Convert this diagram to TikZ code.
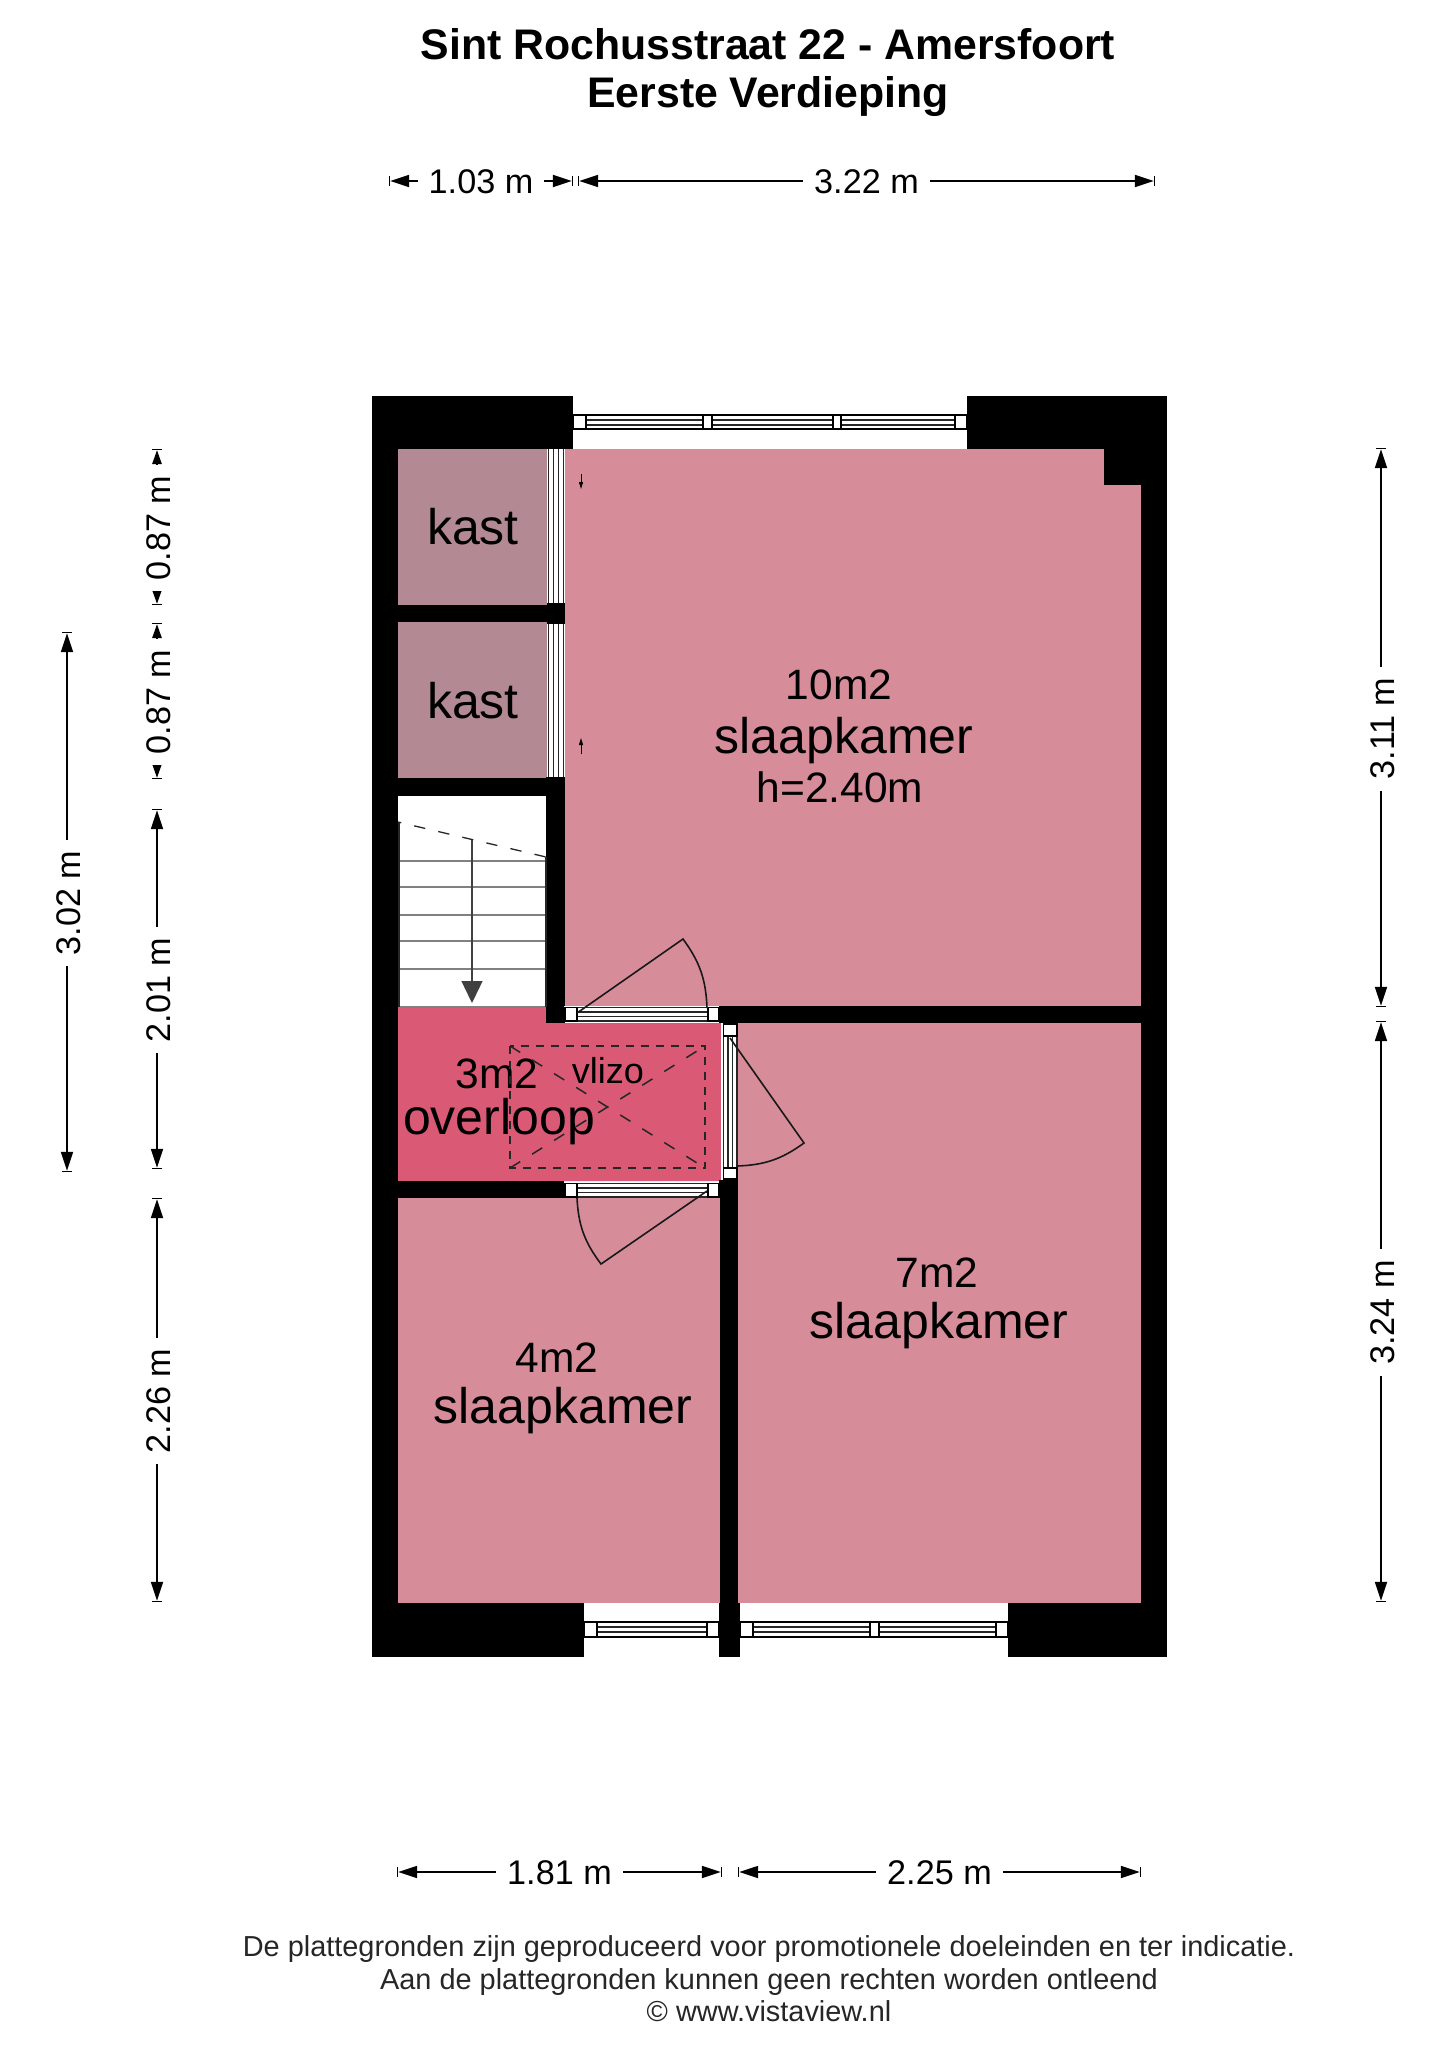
\documentclass[tikz,border=0pt]{standalone}
\usepackage{fontspec}
\setmainfont{Liberation Sans}
\usetikzlibrary{arrows.meta}
\definecolor{roomcol}{HTML}{D68D99}
\definecolor{kastcol}{HTML}{B38A93}
\definecolor{landcol}{HTML}{DA5A76}
\definecolor{stepcol}{HTML}{808080}
\tikzset{
	wall/.style = {fill=black, draw=none},
	room/.style = {fill=roomcol, draw=none},
	frame/.style = {draw=black, fill=white, line width=1.3pt},
	slat/.style = {draw=black!85, line width=1.4pt},
	swing/.style = {draw=black!90, line width=1.6pt},
	hatch/.style = {draw=black!85, line width=1.5pt},
	titletext/.style = {font=\fontsize{42.8}{42.8}\selectfont\bfseries, anchor=base},
	roomtext/.style = {font=\fontsize{50}{50}\selectfont, anchor=base},
	areatext/.style = {font=\fontsize{42.5}{42.5}\selectfont, anchor=base},
	notetext/.style = {font=\fontsize{28.9}{28.9}\selectfont, anchor=base, text=black!85},
	dimtext/.style = {font=\fontsize{34.2}{34.2}\selectfont, fill=white, inner xsep=11pt, inner ysep=2pt, yshift=-1pt},
	dimline/.style = {line width=1.8pt, {Bar[width=10pt,line width=1.2pt].Triangle[length=19pt,width=12pt]}-{Triangle[length=19pt,width=12pt].Bar[width=10pt,line width=1.2pt]}},
	dimshort/.style = {line width=1.5pt, {Bar[width=10pt,line width=1.2pt].Triangle[length=14pt,width=9.5pt]}-{Triangle[length=14pt,width=9.5pt].Bar[width=10pt,line width=1.2pt]}},
	dimrot/.style = {dimtext, rotate=90, yshift=-2pt}
}
\begin{document}
\begin{tikzpicture}[x=1pt, y=-1pt]
		\useasboundingbox (0, 0) rectangle (1449, 2048);
		% rooms
		\fill [room] (565, 449) rectangle (1141, 1007);
		\fill [room] (738, 1021) rectangle (1141, 1603);
		\fill [room] (398, 1197) rectangle (720, 1603);
		\fill [kastcol] (398, 449) rectangle (547, 605);
		\fill [kastcol] (398, 622) rectangle (547, 778);
		\fill [landcol] (398, 1007) -- (546, 1007) -- (546, 1023) -- (721, 1023) -- (721, 1181) -- (398, 1181) -- cycle;
		% outer walls
		\fill [wall] (372, 396) rectangle (573, 449);
		\fill [wall] (372, 396) rectangle (398, 1657);
		\fill [wall] (372, 1603) rectangle (584, 1657);
		\fill [wall] (967, 396) rectangle (1167, 449);
		\fill [wall] (1141, 396) rectangle (1167, 1657);
		\fill [wall] (1008, 1603) rectangle (1167, 1657);
		\fill [wall] (1104, 449) rectangle (1141, 485);
		% inner walls
		\fill [wall] (398, 605) rectangle (547, 622);
		\fill [wall] (547, 603) rectangle (565, 624);
		\fill [wall] (398, 778) rectangle (547, 796);
		\fill [wall] (546, 777) rectangle (565, 1023);
		\fill [wall] (719, 1006) rectangle (1141, 1023);
		\fill [wall] (398, 1181) rectangle (564, 1198);
		\fill [wall] (720, 1180) rectangle (738, 1603);
		\fill [wall] (719, 1180) rectangle (738, 1198);
		\fill [wall] (719, 1603) rectangle (740, 1657);
		% top window
		\draw [frame] (573, 415) rectangle (967, 429);
		\foreach \y in {420, 425} {
			\draw [slat] (586, \y) -- (955, \y);
		}
		\draw [frame] (573, 415) rectangle (586, 429);
		\draw [frame] (703, 415) rectangle (712, 429);
		\draw [frame] (833, 415) rectangle (841, 429);
		\draw [frame] (955, 415) rectangle (967, 429);
		% bottom windows
		\draw [frame] (584, 1622) rectangle (719, 1637);
		\draw [frame] (740, 1622) rectangle (1008, 1637);
		\foreach \y in {1627, 1632} {
			\draw [slat] (597, \y) -- (707, \y);
			\draw [slat] (753, \y) -- (996, \y);
		}
		\draw [frame] (584, 1622) rectangle (597, 1637);
		\draw [frame] (707, 1622) rectangle (719, 1637);
		\draw [frame] (740, 1622) rectangle (753, 1637);
		\draw [frame] (870, 1622) rectangle (879, 1637);
		\draw [frame] (996, 1622) rectangle (1008, 1637);
		% sliding doors
		\foreach \a/\b in {449/603, 624/777} {
			\fill [white] (547, \a) rectangle (565, \b);
			\foreach \x in {548.5, 553.5, 558.5, 563.5} {
				\draw [slat] (\x, \a) -- (\x, \b);
			}
		}
		% stairs
		\fill [white] (398, 796) rectangle (546, 1007);
		\draw [stepcol, line width=1.2pt] (398, 1007) -- (546, 1007);
		\foreach \y in {861, 887, 915, 941, 969} {
			\draw [stepcol, line width=1.2pt] (398, \y) -- (546, \y);
		}
		\draw [black!85, line width=1.3pt] (399, 822) -- (399, 1007);
		\draw [black!85, line width=1.3pt] (546, 857) -- (546, 1007);
		\draw [black!85, line width=1.3pt, dash pattern=on 11.3pt off 13.4pt, dash phase=8pt] (398, 822) -- (546, 857);
		\coordinate (stairtop) at (472, 840);
		\coordinate (stairend) at (472, 1003);
		\draw [black!75, line width=1.3pt, -{Triangle[length=22pt,width=21pt]}] (stairtop) -- (stairend);
		% door top
		\fill [white] (564, 1006) rectangle (719, 1022);
		\foreach \y in {1007.5, 1012, 1016.5, 1021} {
			\draw [slat] (564, \y) -- (719, \y);
		}
		\draw [frame] (565, 1007.5) rectangle (577, 1021);
		\draw [frame] (708, 1007.5) rectangle (719, 1021);
		\coordinate (topa) at (577, 1013);
		\coordinate (topb) at (683, 939);
		\coordinate (topc) at (707, 1008);
		\draw [swing] (topa) -- (topb) to [bend left=17] (topc);
		% door below
		\fill [white] (564, 1182) rectangle (719, 1198);
		\foreach \y in {1183.5, 1188, 1192.5, 1197} {
			\draw [slat] (564, \y) -- (719, \y);
		}
		\draw [frame] (565, 1183.5) rectangle (577, 1197);
		\draw [frame] (708, 1183.5) rectangle (719, 1197);
		\coordinate (lowa) at (707, 1191);
		\coordinate (lowb) at (601, 1264);
		\coordinate (lowc) at (577, 1198);
		\draw [swing] (lowa) -- (lowb) to [bend left=17] (lowc);
		% door right
		\fill [white] (721, 1023) rectangle (737.5, 1180);
		\foreach \x in {723.5, 728, 732.5, 737} {
			\draw [slat] (\x, 1036) -- (\x, 1168);
		}
		\draw [frame] (723.5, 1024) rectangle (737, 1036);
		\draw [frame] (723.5, 1168) rectangle (737, 1179);
		\coordinate (sidea) at (730, 1038);
		\coordinate (sideb) at (804, 1143);
		\coordinate (sidec) at (737, 1166);
		\draw [swing] (sidea) -- (sideb) to [bend left=17] (sidec);
		% room names
		\node [roomtext] (kastone) at (473, 544) {kast};
		\node [roomtext] (kasttwo) at (473, 718) {kast};
		\node [areatext] (areaone) at (839, 699) {10m2};
		\node [roomtext] (roomone) at (844, 753) {slaapkamer};
		\node [areatext] (heightone) at (840, 802) {h=2.40m};
		\node [areatext] (arealand) at (497, 1088) {3m2};
		\node [roomtext] (roomland) at (499, 1134) {overloop};
		\node [font=\fontsize{36}{36}\selectfont, anchor=base] (vlizo) at (608, 1083) {vlizo};
		\node [areatext] (areatwo) at (937, 1287) {7m2};
		\node [roomtext] (roomtwo) at (939, 1338) {slaapkamer};
		\node [areatext] (areathree) at (557, 1372) {4m2};
		\node [roomtext] (roomthree) at (563, 1423) {slaapkamer};
		% hatch
		\draw [hatch, dash pattern=on 8pt off 7pt] (510, 1046) rectangle (705, 1168);
		\draw [hatch, dash pattern=on 12pt off 14pt] (510, 1046) -- (705, 1168);
		\draw [hatch, dash pattern=on 12pt off 14pt] (510, 1168) -- (705, 1046);
		% closet arrows
		\coordinate (upa) at (581, 474);
		\coordinate (upb) at (581, 489);
		\coordinate (dna) at (581, 754);
		\coordinate (dnb) at (581, 738);
		\draw [line width=1pt, -{Triangle[length=7pt,width=4pt]}] (upa) -- (upb);
		\draw [line width=1pt, -{Triangle[length=7pt,width=4pt]}] (dna) -- (dnb);
		% dimensions
		\coordinate (topl) at (389, 181);
		\coordinate (topm) at (573, 181);
		\coordinate (topn) at (578, 181);
		\coordinate (topr) at (1155, 181);
		\draw [dimline] (topl) -- node [dimtext] (dima) {1.03 m} (topm);
		\draw [dimline] (topn) -- node [dimtext] (dimb) {3.22 m} (topr);
		\coordinate (botl) at (397, 1872);
		\coordinate (botm) at (722, 1872);
		\coordinate (botn) at (738, 1872);
		\coordinate (botr) at (1141, 1872);
		\draw [dimline] (botl) -- node [dimtext] (dimc) {1.81 m} (botm);
		\draw [dimline] (botn) -- node [dimtext] (dimd) {2.25 m} (botr);
		\coordinate (lefa) at (157, 449);
		\coordinate (lefb) at (157, 605);
		\coordinate (lefc) at (157, 623);
		\coordinate (lefd) at (157, 779);
		\coordinate (lefe) at (157, 809);
		\coordinate (leff) at (157, 1169);
		\coordinate (lefg) at (157, 1198);
		\coordinate (lefh) at (157, 1602);
		\draw [dimshort] (lefa) -- node [dimrot] (dime) {0.87 m} (lefb);
		\draw [dimshort] (lefc) -- node [dimrot] (dimf) {0.87 m} (lefd);
		\draw [dimline] (lefe) -- node [dimrot] (dimg) {2.01 m} (leff);
		\draw [dimline] (lefg) -- node [dimrot] (dimh) {2.26 m} (lefh);
		\coordinate (fara) at (67, 632);
		\coordinate (farb) at (67, 1172);
		\draw [dimline] (fara) -- node [dimrot] (dimi) {3.02 m} (farb);
		\coordinate (riga) at (1381, 448);
		\coordinate (rigb) at (1381, 1007);
		\coordinate (rigc) at (1381, 1021);
		\coordinate (rigd) at (1381, 1602);
		\draw [dimline] (riga) -- node [dimrot] (dimj) {3.11 m} (rigb);
		\draw [dimline] (rigc) -- node [dimrot] (dimk) {3.24 m} (rigd);
		% title and note
		\node [titletext] (titleone) at (768, 59) {Sint Rochusstraat 22 - Amersfoort};
		\node [titletext] (titletwo) at (768, 107) {Eerste Verdieping};
		\node [notetext] (noteone) at (769, 1956) {De plattegronden zijn geproduceerd voor promotionele doeleinden en ter indicatie.};
		\node [notetext] (notetwo) at (769, 1989) {Aan de plattegronden kunnen geen rechten worden ontleend};
		\node [notetext] (notethree) at (769, 2021) {© www.vistaview.nl};
	\end{tikzpicture}
\end{document}
